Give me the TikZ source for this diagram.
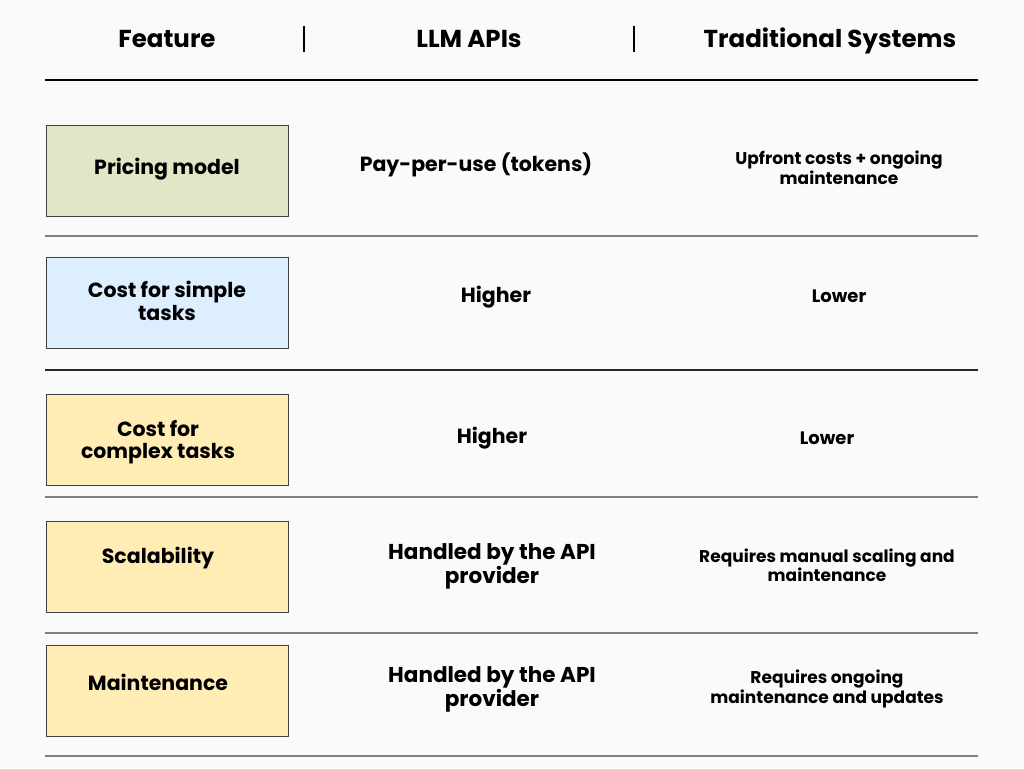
\documentclass[tikz,border=0pt]{standalone}
\usepackage{fontspec}
\setmainfont{Poppins}
\begin{document}
\begin{tikzpicture}[x=1pt,y=-1pt,
  hdr/.style={font=\fontsize{24.5}{28}\selectfont\bfseries, text=black, anchor=base},
  cell/.style={font=\fontsize{20.5}{22.5}\selectfont\bfseries, align=center, anchor=center},
  big/.style={font=\fontsize{21.5}{24}\selectfont\bfseries, align=center, anchor=center},
  small/.style={font=\fontsize{17}{19.5}\selectfont\bfseries, align=center, anchor=center},
  tiny/.style={font=\fontsize{18}{20}\selectfont\bfseries, align=center, anchor=center},
  featbox/.style={draw=black!75, line width=0.8pt, minimum width=242pt, minimum height=91pt, anchor=north west, inner sep=0pt},
  sep/.style={draw=black!50, line width=1.4pt},
  vsep/.style={draw=black, line width=1.6pt}]
\definecolor{bg}{HTML}{FAFAFA}
\definecolor{cgreen}{HTML}{E1E7C6}
\definecolor{cblue}{HTML}{DDEEFF}
\definecolor{cyellow}{HTML}{FFEDB5}
\fill[bg] (0,0) rectangle (1024,768);
\useasboundingbox (0,0) rectangle (1024,768);
% header
\node[hdr] (h1) at (167,48) {Feature};
\node[hdr] (h2) at (469,48) {LLM APIs};
\node[hdr] (h3) at (830,48) {Traditional Systems};
\coordinate (v1a) at (304,26); \coordinate (v1b) at (304,52);
\coordinate (v2a) at (634,26); \coordinate (v2b) at (634,52);
\draw[vsep] (v1a) -- (v1b);
\draw[vsep] (v2a) -- (v2b);
\coordinate (hl1) at (45,80); \coordinate (hl2) at (978,80);
\draw[draw=black, line width=2pt] (hl1) -- (hl2);
% separators
\foreach \y/\c [count=\i] in {236/50,370/85,497/50,633/50,756/50}{
  \coordinate (s\i a) at (45,\y); \coordinate (s\i b) at (978,\y);
  \draw[sep, draw=black!\c] (s\i a) -- (s\i b);
}
% row 1
\node[featbox, fill=cgreen] (b1) at (46,125) {};
\node[cell] (f1) at (167,169) {Pricing model};
\node[cell] (l1) at (476,165) {Pay-per-use (tokens)};
\node[small] (t1) at (839,168) {Upfront costs + ongoing\\maintenance};
% row 2
\node[featbox, fill=cblue] (b2) at (46,257) {};
\node[cell] (f2) at (167,301) {Cost for simple\\tasks};
\node[cell] (l2) at (496,297) {Higher};
\node[tiny] (t2) at (839,296) {Lower};
% row 3
\node[featbox, fill=cyellow] (b3) at (46,394) {};
\node[cell] (f3) at (158,442) {Cost for\\complex tasks};
\node[cell] (l3) at (492,438) {Higher};
\node[tiny] (t3) at (827,438) {Lower};
% row 4
\node[featbox, fill=cyellow] (b4) at (46,521) {};
\node[cell] (f4) at (158,558) {Scalability};
\node[big] (l4) at (492,566) {Handled by the API\\provider};
\node[small] (t4) at (827,565) {Requires manual scaling and\\maintenance};
% row 5
\node[featbox, fill=cyellow] (b5) at (46,645) {};
\node[cell] (f5) at (158,682) {Maintenance};
\node[big] (l5) at (492,689) {Handled by the API\\provider};
\node[small] (t5) at (827,689) {Requires ongoing\\maintenance and updates};
\end{tikzpicture}
\end{document}
